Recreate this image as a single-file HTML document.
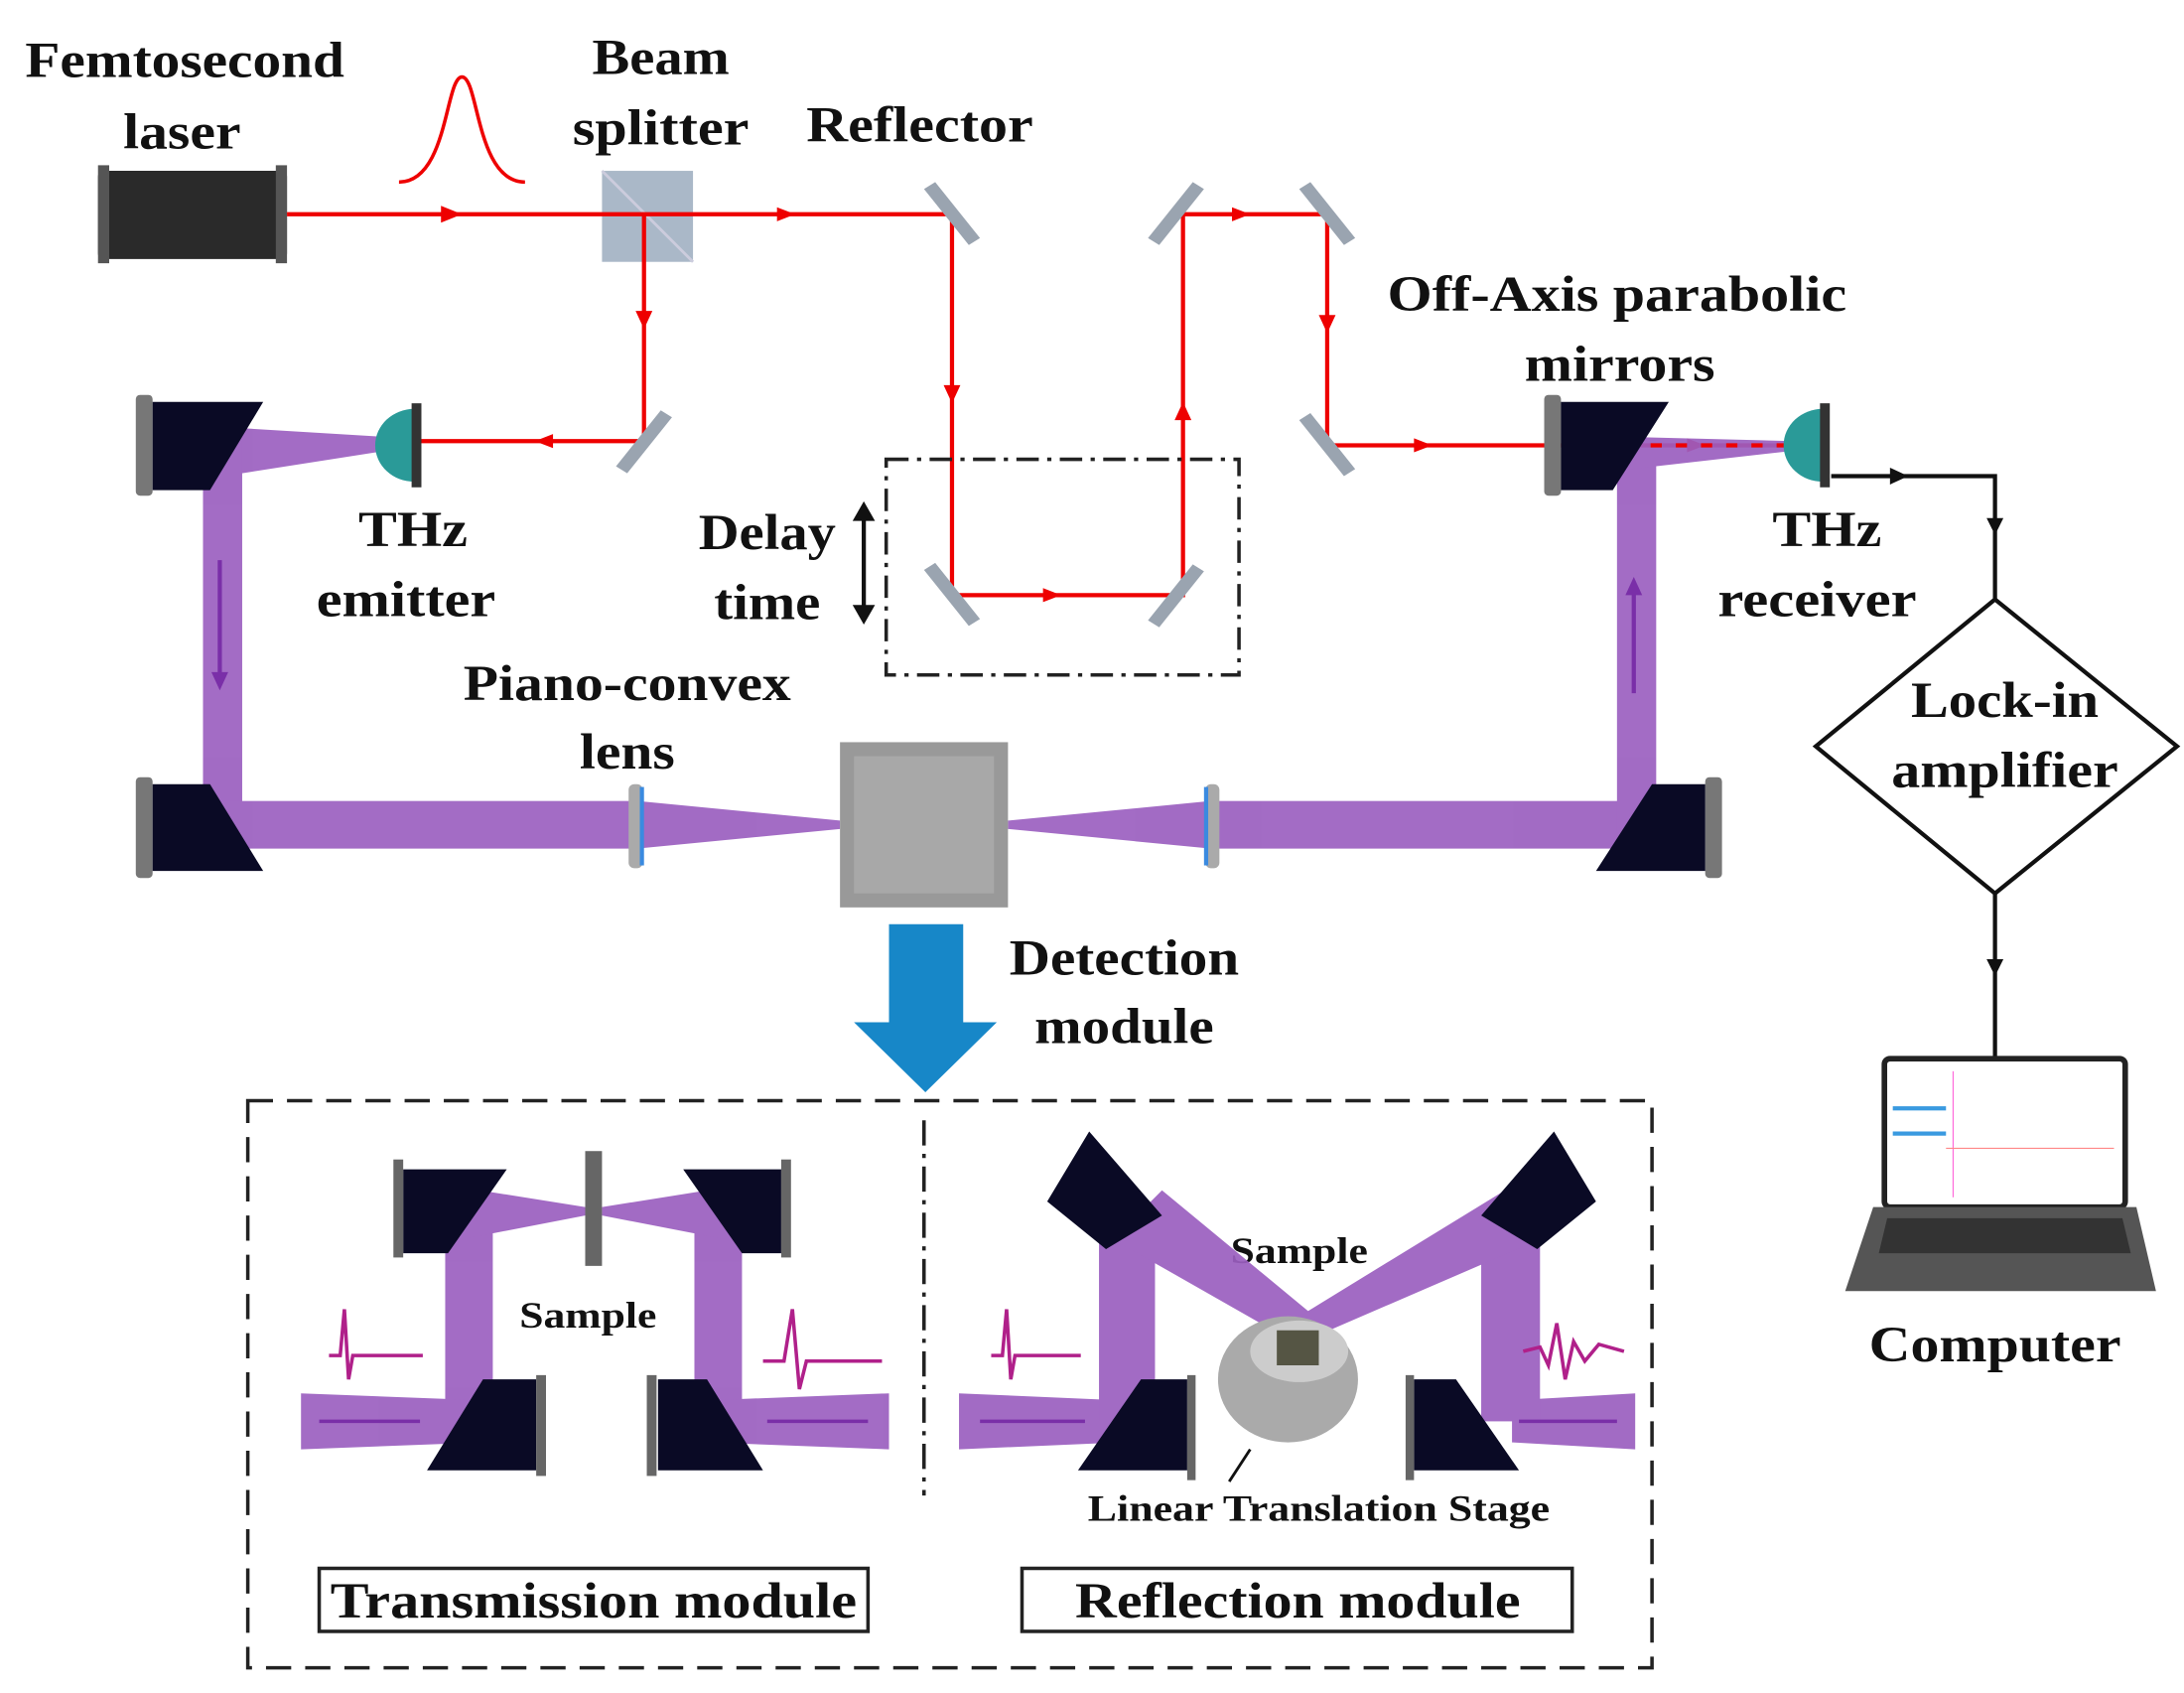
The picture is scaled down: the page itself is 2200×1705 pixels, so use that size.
<!DOCTYPE html>
<html><head><meta charset="utf-8"><style>html,body{margin:0;padding:0;background:#fff}svg{display:block}text{font-family:"Liberation Serif",serif;font-weight:bold;fill:#111}</style></head>
<body>
<svg width="2200" height="1705" viewBox="0 0 1560 1209" preserveAspectRatio="none" xmlns="http://www.w3.org/2000/svg">
<g font-size="36">
<text x="132" y="55" text-anchor="middle" textLength="228" lengthAdjust="spacingAndGlyphs">Femtosecond</text>
<text x="130" y="106" text-anchor="middle" textLength="84" lengthAdjust="spacingAndGlyphs">laser</text>
<text x="472" y="53" text-anchor="middle" textLength="98" lengthAdjust="spacingAndGlyphs">Beam</text>
<text x="472" y="103" text-anchor="middle" textLength="126" lengthAdjust="spacingAndGlyphs">splitter</text>
<text x="657" y="101" text-anchor="middle" textLength="162" lengthAdjust="spacingAndGlyphs">Reflector</text>
<text x="1155" y="222" text-anchor="middle" textLength="328" lengthAdjust="spacingAndGlyphs">Off-Axis parabolic</text>
<text x="1157" y="272" text-anchor="middle" textLength="136" lengthAdjust="spacingAndGlyphs">mirrors</text>
<text x="295" y="390" text-anchor="middle" textLength="78" lengthAdjust="spacingAndGlyphs">THz</text>
<text x="290" y="440" text-anchor="middle" textLength="128" lengthAdjust="spacingAndGlyphs">emitter</text>
<text x="548" y="392" text-anchor="middle" textLength="98" lengthAdjust="spacingAndGlyphs">Delay</text>
<text x="548" y="442" text-anchor="middle" textLength="76" lengthAdjust="spacingAndGlyphs">time</text>
<text x="1305" y="390" text-anchor="middle" textLength="78" lengthAdjust="spacingAndGlyphs">THz</text>
<text x="1298" y="440" text-anchor="middle" textLength="142" lengthAdjust="spacingAndGlyphs">receiver</text>
<text x="448" y="500" text-anchor="middle" textLength="234" lengthAdjust="spacingAndGlyphs">Piano-convex</text>
<text x="448" y="549" text-anchor="middle" textLength="68" lengthAdjust="spacingAndGlyphs">lens</text>
<text x="1432" y="512" text-anchor="middle" textLength="134" lengthAdjust="spacingAndGlyphs">Lock-in</text>
<text x="1432" y="562" text-anchor="middle" textLength="162" lengthAdjust="spacingAndGlyphs">amplifier</text>
<text x="803" y="696" text-anchor="middle" textLength="164" lengthAdjust="spacingAndGlyphs">Detection</text>
<text x="803" y="745" text-anchor="middle" textLength="128" lengthAdjust="spacingAndGlyphs">module</text>
<text x="1425" y="972" text-anchor="middle" textLength="180" lengthAdjust="spacingAndGlyphs">Computer</text>
<text x="424" y="1155" text-anchor="middle" textLength="376" lengthAdjust="spacingAndGlyphs">Transmission module</text>
<text x="927" y="1155" text-anchor="middle" textLength="318" lengthAdjust="spacingAndGlyphs">Reflection module</text>
</g>
<g font-size="26">
<text x="420" y="948" text-anchor="middle" textLength="98" lengthAdjust="spacingAndGlyphs">Sample</text>
<text x="928" y="902" text-anchor="middle" textLength="98" lengthAdjust="spacingAndGlyphs">Sample</text>
<text x="942" y="1086" text-anchor="middle" textLength="330" lengthAdjust="spacingAndGlyphs">Linear Translation Stage</text>
</g>
<rect x="70" y="122" width="135" height="63" rx="4" fill="#2a2a2a"/>
<rect x="70" y="118" width="8" height="70" fill="#555"/><rect x="197" y="118" width="8" height="70" fill="#555"/>
<path d="M285,130 C320,130 318,55 330,55 C342,55 340,130 375,130" fill="none" stroke="#e00" stroke-width="2.5"/>
<rect x="430" y="122" width="65" height="65" fill="#aab8c8"/>
<line x1="430" y1="122" x2="495" y2="187" stroke="#ccd" stroke-width="2"/>
<g stroke="#e00" stroke-width="3" fill="none">
<polyline points="205,153 680,153 680,425 845,425 845,153 948,153 948,318 1280,318"/>
<polyline points="460,153 460,315 300,315"/>
</g>
<g fill="#e00">
<path d="M315,147L330,153L315,159z"/><path d="M555,148L568,153L555,158z"/><path d="M454,222L460,235L466,222z"/>
<path d="M395,310L382,315L395,320z"/><path d="M674,275L680,288L686,275z"/><path d="M745,420L758,425L745,430z"/>
<path d="M839,300L845,287L851,300z"/><path d="M880,148L893,153L880,158z"/><path d="M942,225L948,238L954,225z"/>
<path d="M1010,313L1023,318L1010,323z"/><path d="M1205,313L1218,318L1205,323z"/>
</g>
<g fill="#9aa4b0">
<polygon points="660,135 668,130 700,170 692,175"/><polygon points="440,333 448,338 480,298 472,293"/>
<polygon points="660,407 668,402 700,442 692,447"/><polygon points="820,443 828,448 860,408 852,403"/>
<polygon points="820,170 828,175 860,135 852,130"/><polygon points="928,135 936,130 968,170 960,175"/>
<polygon points="928,300 936,295 968,335 960,340"/>
</g>
<rect x="633" y="328" width="252" height="154" fill="none" stroke="#222" stroke-width="2.5" stroke-dasharray="16,6,3,6"/>
<line x1="617" y1="368" x2="617" y2="436" stroke="#111" stroke-width="3"/>
<path d="M609,372L617,358L625,372z M609,432L617,446L625,432z" fill="#111"/>
<g fill="#9b5fc0" opacity="0.92">
<polygon points="160,305 275,312 275,322 160,340"/>
<rect x="145" y="310" width="28" height="285"/>
<rect x="145" y="572" width="310" height="34"/>
<polygon points="455,572 600,586 600,592 455,606"/>
<polygon points="720,586 865,572 865,606 720,592"/>
<rect x="865" y="572" width="315" height="34"/>
<rect x="1155" y="315" width="28" height="290"/>
<polygon points="1165,312 1280,315 1280,322 1165,335"/>
</g>
<line x1="157" y1="400" x2="157" y2="485" stroke="#7a2fa8" stroke-width="3"/><path d="M151,480L157,493L163,480z" fill="#7a2fa8"/>
<line x1="1167" y1="420" x2="1167" y2="495" stroke="#7a2fa8" stroke-width="3"/><path d="M1161,425L1167,412L1173,425z" fill="#7a2fa8"/>
<line x1="1125" y1="318" x2="1280" y2="318" stroke="#e00" stroke-width="3" stroke-dasharray="8,10"/>
<g>
<rect x="97" y="282" width="12" height="72" rx="3" fill="#777"/><polygon points="109,287 188,287 150,350 109,350" fill="#0a0a25"/>
<rect x="97" y="555" width="12" height="72" rx="3" fill="#777"/><polygon points="109,560 150,560 188,622 109,622" fill="#0a0a25"/>
<rect x="1103" y="282" width="12" height="72" rx="3" fill="#777"/><polygon points="1115,287 1192,287 1152,350 1115,350" fill="#0a0a25"/>
<rect x="1218" y="555" width="12" height="72" rx="3" fill="#777"/><polygon points="1218,560 1180,560 1140,622 1218,622" fill="#0a0a25"/>
</g>
<path d="M296,292 A28,26 0 0 0 296,344 Z" fill="#2a9a98"/><rect x="294" y="288" width="7" height="60" fill="#333"/>
<path d="M1302,292 A28,26 0 0 0 1302,344 Z" fill="#2a9a98"/><rect x="1300" y="288" width="7" height="60" fill="#333"/>
<rect x="449" y="560" width="10" height="60" rx="4" fill="#aaa"/><rect x="457" y="562" width="3" height="56" fill="#3a8ae0"/>
<rect x="861" y="560" width="10" height="60" rx="4" fill="#aaa"/><rect x="860" y="562" width="3" height="56" fill="#3a8ae0"/>
<rect x="600" y="530" width="120" height="118" fill="#999"/>
<rect x="610" y="540" width="100" height="98" fill="#a8a8a8"/>
<polygon points="635,660 688,660 688,730 712,730 661,780 610,730 635,730" fill="#1787c8"/>
<g stroke="#111" stroke-width="3" fill="none">
<polyline points="1308,340 1425,340 1425,428"/>
<polygon points="1425,428 1555,533 1425,638 1297,533"/>
<line x1="1425" y1="638" x2="1425" y2="756"/>
</g>
<path d="M1350,334L1363,340L1350,346z M1419,370L1425,382L1431,370z M1419,685L1425,697L1431,685z" fill="#111"/>
<rect x="1346" y="756" width="172" height="106" rx="4" fill="#fff" stroke="#222" stroke-width="4"/>
<rect x="1352" y="790" width="38" height="3" fill="#3a9ae0"/><rect x="1352" y="808" width="38" height="3" fill="#3a9ae0"/>
<line x1="1395" y1="765" x2="1395" y2="855" stroke="#f3c" stroke-width="0.6"/><line x1="1390" y1="820" x2="1510" y2="820" stroke="#f88" stroke-width="0.8"/>
<polygon points="1338,862 1526,862 1540,922 1318,922" fill="#555"/>
<polygon points="1348,870 1516,870 1522,895 1342,895" fill="#333"/>
<rect x="177" y="786" width="1003" height="405" fill="none" stroke="#222" stroke-width="2.5" stroke-dasharray="18,10"/>
<line x1="660" y1="800" x2="660" y2="1068" stroke="#222" stroke-width="2.5" stroke-dasharray="18,6,3,6"/>
<rect x="228" y="1120" width="392" height="45" fill="none" stroke="#222" stroke-width="2.5"/>
<rect x="730" y="1120" width="393" height="45" fill="none" stroke="#222" stroke-width="2.5"/>
<g fill="#9b5fc0" opacity="0.92">
<rect x="318" y="860" width="34" height="165"/><rect x="496" y="860" width="34" height="165"/>
<polygon points="330,848 418,862 418,868 330,885"/><polygon points="430,862 518,848 518,885 430,868"/>
<polygon points="215,995 345,1000 345,1030 215,1035"/><polygon points="505,1000 635,995 635,1035 505,1030"/>
<polygon points="685,995 800,1000 800,1030 685,1035"/><polygon points="1080,1000 1168,995 1168,1035 1080,1030"/>
<rect x="785" y="870" width="40" height="145"/><rect x="1058" y="870" width="42" height="145"/>
<polygon points="795,885 830,850 945,945 918,955"/><polygon points="1075,850 1100,885 938,955 920,945"/>
</g>
<g fill="#0a0a25">
<polygon points="288,835 362,835 320,895 288,895"/><polygon points="488,835 558,835 558,895 530,895"/>
<polygon points="345,985 383,985 383,1050 305,1050"/><polygon points="470,985 505,985 545,1050 470,1050"/>
<polygon points="778,808 830,868 790,892 748,858"/><polygon points="1110,808 1058,868 1098,892 1140,858"/>
<polygon points="815,985 848,985 848,1050 770,1050"/><polygon points="1010,985 1040,985 1085,1050 1010,1050"/>
</g>
<g fill="#666">
<rect x="281" y="828" width="7" height="70"/><rect x="558" y="828" width="7" height="70"/>
<rect x="383" y="982" width="7" height="72"/><rect x="462" y="982" width="7" height="72"/>
<rect x="418" y="822" width="12" height="82"/>
<rect x="848" y="982" width="6" height="75"/><rect x="1004" y="982" width="6" height="75"/>
</g>
<g stroke="#7a2fa8" stroke-width="2.5">
<line x1="228" y1="1015" x2="300" y2="1015"/><line x1="548" y1="1015" x2="620" y2="1015"/>
<line x1="700" y1="1015" x2="775" y2="1015"/><line x1="1085" y1="1015" x2="1155" y2="1015"/>
</g>
<ellipse cx="920" cy="985" rx="50" ry="45" fill="#aaa"/>
<ellipse cx="928" cy="965" rx="35" ry="22" fill="#ccc"/>
<rect x="912" y="950" width="30" height="25" fill="#554"/>
<line x1="893" y1="1035" x2="878" y2="1058" stroke="#111" stroke-width="2"/>
<g fill="none" stroke="#b0208a" stroke-width="2.5">
<path d="M235,968 L243,968 L246,935 L249,985 L252,968 L302,968"/>
<path d="M545,972 L560,972 L566,935 L571,992 L576,972 L630,972"/>
<path d="M708,968 L716,968 L719,935 L722,985 L725,968 L772,968"/>
<path d="M1088,965 L1100,962 L1106,975 L1112,945 L1118,985 L1124,958 L1132,972 L1142,960 L1160,965"/>
</g>
</svg>
</body></html>
